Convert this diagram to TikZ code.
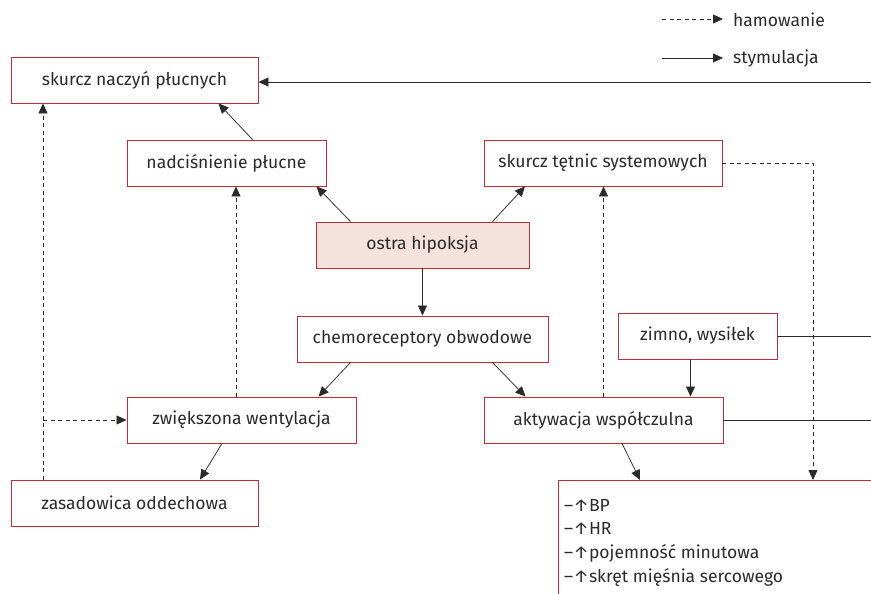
\documentclass[tikz,border=0pt]{standalone}
\usepackage{fontspec}
\setmainfont{Fira Sans}
\usetikzlibrary{arrows.meta,calc}
\definecolor{boxred}{HTML}{C42B3A}
\definecolor{boxfill}{HTML}{F5E2DC}
\definecolor{ln}{HTML}{2A2A2A}
\begin{document}
\begin{tikzpicture}[x=1pt,y=-1pt,
  box/.style={draw=boxred, line width=0.9pt, fill=white, minimum height=46pt, inner sep=0pt, font=\fontsize{17.5}{21}\selectfont, text=ln},
  arr/.style={draw=ln, line width=0.75pt, -{Triangle[length=10pt,width=9pt]}},
  darr/.style={arr, dash pattern=on 4pt off 3.5pt},
  plain/.style={draw=ln, line width=0.75pt},
  lbl/.style={font=\fontsize{17.5}{21}\selectfont, text=ln, anchor=west, inner sep=0pt}
]
\useasboundingbox (0,0) rectangle (871,594);
\clip (0,0) rectangle (871,594);
% legend
\coordinate (l1a) at (662,19); \coordinate (l1b) at (723,19);
\coordinate (l2a) at (662,58); \coordinate (l2b) at (723,58);
\draw[darr] (l1a) -- (l1b);
\draw[arr] (l2a) -- (l2b);
\node[lbl] (lh) at (733,20) {hamowanie};
\node[lbl] (ls) at (733,59) {stymulacja};
% boxes
\node[box, minimum width=247pt] (skn) at (134.5,80) {skurcz naczyń płucnych};
\node[box, minimum width=199pt] (nad) at (226.5,163) {nadciśnienie płucne};
\node[box, minimum width=238pt] (skt) at (603,163) {skurcz tętnic systemowych};
\node[box, minimum width=213pt, fill=boxfill] (oh) at (422.5,245) {ostra hipoksja};
\node[box, minimum width=251pt] (chem) at (422.5,339) {chemoreceptory obwodowe};
\node[box, minimum width=159pt] (zim) at (697.5,336) {zimno, wysiłek};
\node[box, minimum width=229pt] (zw) at (241.5,420) {zwiększona wentylacja};
\node[box, minimum width=239pt] (akt) at (603.5,420) {aktywacja współczulna};
\node[box, minimum width=247pt] (zas) at (134.5,503) {zasadowica oddechowa};
\node[box, minimum width=400pt, minimum height=160pt, anchor=north west] (res) at (558,480) {};
\node[anchor=north west, align=left, inner sep=0pt, text=ln, font=\fontsize{17.5}{23.7}\selectfont] (restxt) at (564,499)
  {–↑BP\\–↑HR\\–↑pojemność minutowa\\–↑skręt mięśnia sercowego};
% right-edge coordinates
\coordinate (e1) at (871,82);
\coordinate (e2) at (871,336);
\coordinate (e3) at (871,420);
% solid arrows
\draw[arr] (e1) -- (skn.east |- e1);
\draw[plain] (zim.east) -- (e2);
\draw[plain] (akt.east) -- (e3);
\draw[arr] ([xshift=26pt]nad.north) -- ([xshift=84pt]skn.south);
\draw[arr] ([xshift=-72pt]oh.north) -- ([xshift=90pt]nad.south);
\draw[arr] ([xshift=70pt]oh.north) -- ([xshift=-78pt]skt.south);
\draw[arr] (oh.south) -- (chem.north);
\draw[arr] ([xshift=-72pt]chem.south) -- ([xshift=77pt]zw.north);
\draw[arr] ([xshift=70pt]chem.south) -- ([xshift=-78pt]akt.north);
\draw[arr] ([xshift=-7pt]zim.south) -- ([xshift=-7pt]zim.south |- akt.north);
\draw[arr] ([xshift=-19.5pt]zw.south) -- ([xshift=65.5pt]zas.north);
\draw[arr] ([xshift=18.5pt]akt.south) -- ([xshift=82pt]res.north west);
% dashed arrows
\draw[darr] ([xshift=-91.5pt]zas.north) -- ([xshift=-91.5pt]skn.south);
\coordinate (d1) at (43,420);
\draw[darr] (d1) -- (zw.west);
\draw[darr] ([xshift=-5.5pt]zw.north) -- ([xshift=-5.5pt]zw.north |- nad.south);
\draw[darr] (akt.north) -- (akt.north |- skt.south);
\coordinate (d2) at (813,163);
\draw[darr] (skt.east) -- (d2) -- (d2 |- res.north);
\end{tikzpicture}
\end{document}
